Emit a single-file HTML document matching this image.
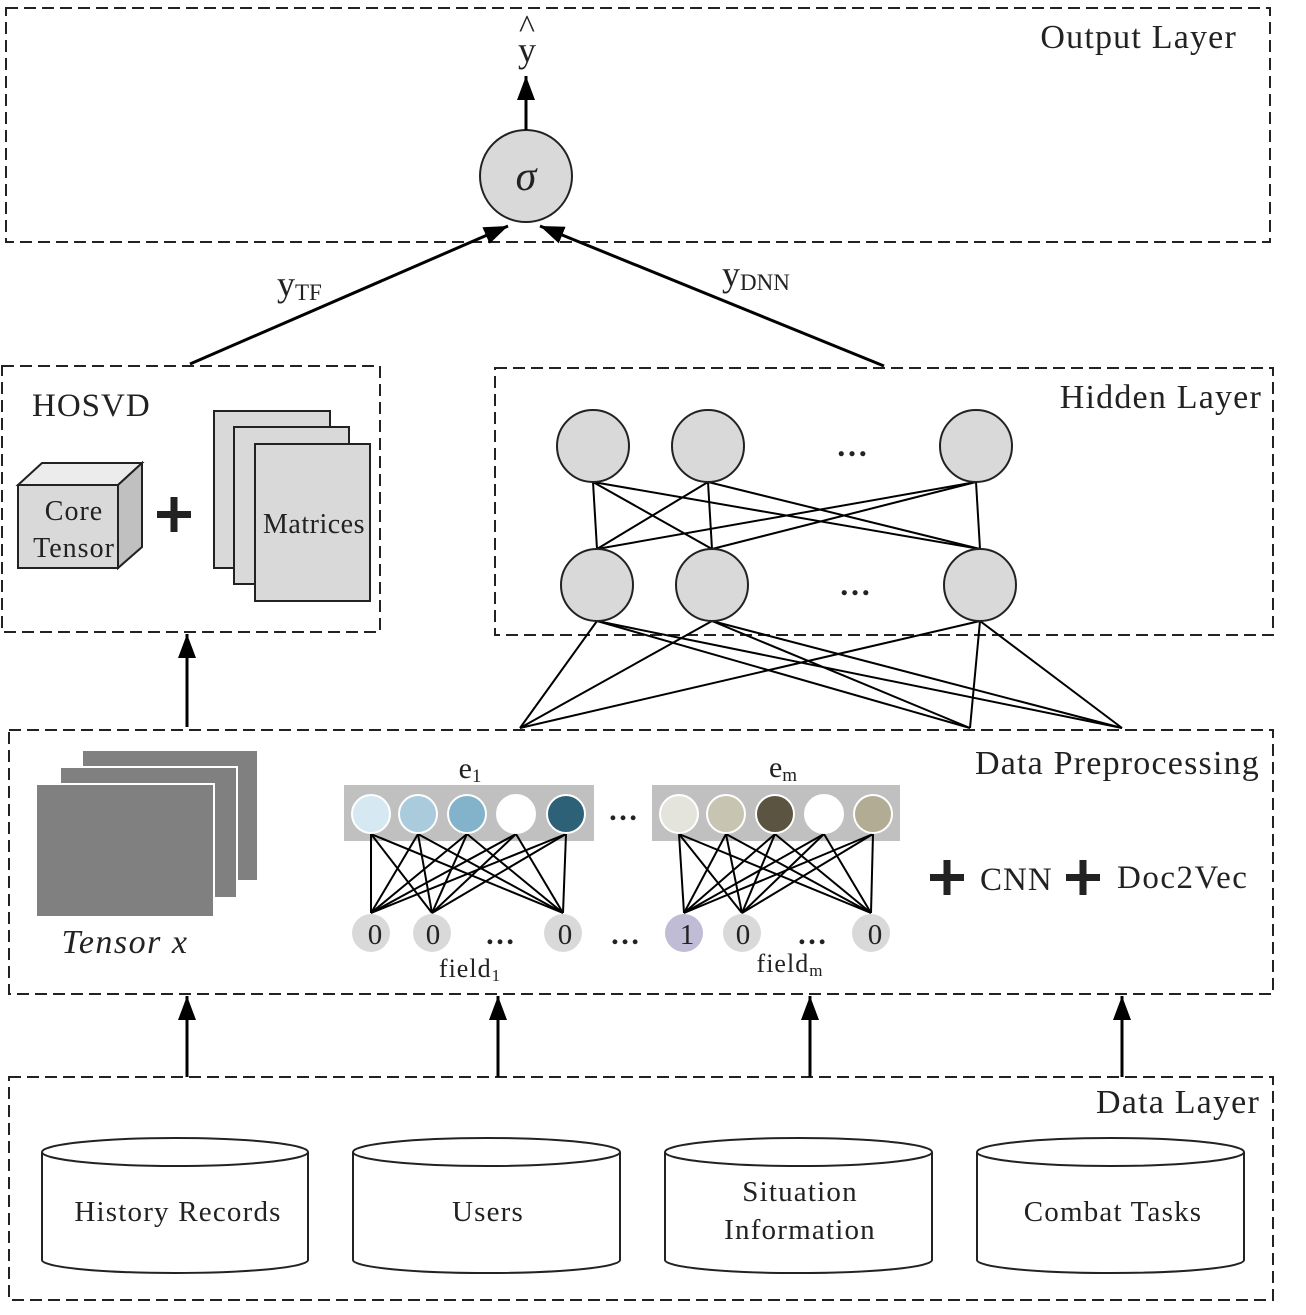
<!DOCTYPE html>
<html><head><meta charset="utf-8"><style>
html,body{margin:0;padding:0;background:#fff;}
svg{display:block;}
text{font-family:"Liberation Serif",serif;fill:#222;}
</style></head><body>
<svg width="1306" height="1315" viewBox="0 0 1306 1315" xmlns="http://www.w3.org/2000/svg">
<defs>
<marker id="ab" markerWidth="26" markerHeight="26" refX="24" refY="9" orient="auto" markerUnits="userSpaceOnUse"><path d="M0,0 L24,9 L0,18 Z" fill="#000"/></marker>
</defs>
<g fill="none" stroke="#222" stroke-width="2" stroke-dasharray="12,6">
<rect x="6" y="8" width="1264" height="234"/>
<rect x="2" y="366" width="378" height="266"/>
<rect x="495" y="368" width="778" height="267"/>
<rect x="9" y="730" width="1264" height="264"/>
<rect x="9" y="1077" width="1264" height="223"/>
</g>
<g font-size="34" letter-spacing="1.2" text-anchor="end">
<text x="1237" y="48">Output Layer</text>
<text x="1262" y="408">Hidden Layer</text>
<text x="1260" y="774">Data Preprocessing</text>
<text x="1260" y="1113">Data Layer</text>
</g>
<text x="32" y="416" font-size="33" letter-spacing="1">HOSVD</text>

<!-- output -->
<circle cx="526" cy="176" r="46" fill="#d9d9d9" stroke="#222" stroke-width="2"/>
<text x="526" y="190" font-size="42" font-style="italic" text-anchor="middle">σ</text>
<line x1="526" y1="130" x2="526" y2="76" stroke="#000" stroke-width="3" marker-end="url(#ab)"/>
<text x="527" y="62" font-size="36" text-anchor="middle">y</text>
<text x="527" y="38" font-size="34" text-anchor="middle">^</text>
<line x1="190" y1="364" x2="508" y2="226" stroke="#000" stroke-width="3" marker-end="url(#ab)"/>
<line x1="884" y1="366" x2="540" y2="226" stroke="#000" stroke-width="3" marker-end="url(#ab)"/>
<text x="277" y="296" font-size="36">y<tspan font-size="23" dy="4">TF</tspan></text>
<text x="722" y="286" font-size="36">y<tspan font-size="23" dy="4">DNN</tspan></text>

<!-- HOSVD -->
<polygon points="18,485 42,463 142,463 118,485" fill="#ececec" stroke="#222" stroke-width="2"/>
<polygon points="118,485 142,463 142,547 118,568" fill="#c0c0c0" stroke="#222" stroke-width="2"/>
<rect x="18" y="485" width="100" height="83" fill="#d9d9d9" stroke="#222" stroke-width="2"/>
<text x="74" y="520" font-size="28" letter-spacing="1" text-anchor="middle">Core</text>
<text x="74" y="557" font-size="28" letter-spacing="1" text-anchor="middle">Tensor</text>
<rect x="157" y="511" width="34" height="7" fill="#222"/><rect x="170.5" y="497" width="7" height="35" fill="#222"/>
<rect x="214" y="411" width="116" height="157" fill="#d9d9d9" stroke="#222" stroke-width="2"/>
<rect x="234" y="427" width="115" height="157" fill="#d9d9d9" stroke="#222" stroke-width="2"/>
<rect x="255" y="444" width="115" height="157" fill="#d9d9d9" stroke="#222" stroke-width="2"/>
<text x="314" y="533" font-size="28" letter-spacing="0.5" text-anchor="middle">Matrices</text>
<line x1="187" y1="727" x2="187" y2="634" stroke="#000" stroke-width="3" marker-end="url(#ab)"/>

<!-- hidden -->
<g stroke="#000" stroke-width="2">
<line x1="593" y1="482" x2="597" y2="549"/><line x1="593" y1="482" x2="712" y2="549"/><line x1="593" y1="482" x2="980" y2="549"/>
<line x1="708" y1="482" x2="597" y2="549"/><line x1="708" y1="482" x2="712" y2="549"/><line x1="708" y1="482" x2="980" y2="549"/>
<line x1="976" y1="482" x2="597" y2="549"/><line x1="976" y1="482" x2="712" y2="549"/><line x1="976" y1="482" x2="980" y2="549"/>
<line x1="597" y1="621" x2="520" y2="728"/><line x1="597" y1="621" x2="970" y2="728"/><line x1="597" y1="621" x2="1122" y2="728"/>
<line x1="712" y1="621" x2="520" y2="728"/><line x1="712" y1="621" x2="970" y2="728"/><line x1="712" y1="621" x2="1122" y2="728"/>
<line x1="980" y1="621" x2="520" y2="728"/><line x1="980" y1="621" x2="970" y2="728"/><line x1="980" y1="621" x2="1122" y2="728"/>
</g>
<g fill="#d9d9d9" stroke="#222" stroke-width="2">
<circle cx="593" cy="446" r="36"/><circle cx="708" cy="446" r="36"/><circle cx="976" cy="446" r="36"/>
<circle cx="597" cy="585" r="36"/><circle cx="712" cy="585" r="36"/><circle cx="980" cy="585" r="36"/>
</g>
<text x="852" y="456" font-size="32" font-weight="bold" text-anchor="middle">…</text>
<text x="855" y="595" font-size="32" font-weight="bold" text-anchor="middle">…</text>

<!-- tensor x -->
<rect x="82" y="750" width="176" height="131" fill="#808080" stroke="#fff" stroke-width="2"/>
<rect x="60" y="767" width="177" height="131" fill="#808080" stroke="#fff" stroke-width="2"/>
<rect x="36" y="784" width="178" height="133" fill="#808080" stroke="#fff" stroke-width="2"/>
<text x="125" y="953" font-size="34" letter-spacing="1.5" font-style="italic" text-anchor="middle">Tensor x</text>

<!-- embeddings -->
<rect x="344" y="785" width="250" height="56" fill="#c0c0c0"/>
<rect x="652" y="785" width="248" height="56" fill="#c0c0c0"/>
<g stroke="#000" stroke-width="2">
<line x1="371" y1="834" x2="371" y2="913"/><line x1="371" y1="834" x2="432" y2="913"/><line x1="371" y1="834" x2="563" y2="913"/>
<line x1="418" y1="834" x2="371" y2="913"/><line x1="418" y1="834" x2="432" y2="913"/><line x1="418" y1="834" x2="563" y2="913"/>
<line x1="467" y1="834" x2="371" y2="913"/><line x1="467" y1="834" x2="432" y2="913"/><line x1="467" y1="834" x2="563" y2="913"/>
<line x1="516" y1="834" x2="371" y2="913"/><line x1="516" y1="834" x2="432" y2="913"/><line x1="516" y1="834" x2="563" y2="913"/>
<line x1="566" y1="834" x2="371" y2="913"/><line x1="566" y1="834" x2="432" y2="913"/><line x1="566" y1="834" x2="563" y2="913"/>
<line x1="679" y1="834" x2="684" y2="913"/><line x1="679" y1="834" x2="742" y2="913"/><line x1="679" y1="834" x2="871" y2="913"/>
<line x1="726" y1="834" x2="684" y2="913"/><line x1="726" y1="834" x2="742" y2="913"/><line x1="726" y1="834" x2="871" y2="913"/>
<line x1="775" y1="834" x2="684" y2="913"/><line x1="775" y1="834" x2="742" y2="913"/><line x1="775" y1="834" x2="871" y2="913"/>
<line x1="824" y1="834" x2="684" y2="913"/><line x1="824" y1="834" x2="742" y2="913"/><line x1="824" y1="834" x2="871" y2="913"/>
<line x1="873" y1="834" x2="684" y2="913"/><line x1="873" y1="834" x2="742" y2="913"/><line x1="873" y1="834" x2="871" y2="913"/>
</g>
<g stroke="#fff" stroke-width="2">
<circle cx="371" cy="814" r="19" fill="#d6e8f2"/><circle cx="418" cy="814" r="19" fill="#a9cbdc"/><circle cx="467" cy="814" r="19" fill="#82b3ca"/><circle cx="516" cy="814" r="19" fill="#ffffff"/><circle cx="566" cy="814" r="19" fill="#2d6177"/>
<circle cx="679" cy="814" r="19" fill="#e4e4dc"/><circle cx="726" cy="814" r="19" fill="#c8c4b2"/><circle cx="775" cy="814" r="19" fill="#5a5440"/><circle cx="824" cy="814" r="19" fill="#ffffff"/><circle cx="873" cy="814" r="19" fill="#b2ac94"/>
</g>
<g fill="#d9d9d9">
<circle cx="371" cy="933" r="19"/><circle cx="432" cy="933" r="19"/><circle cx="563" cy="933" r="19"/>
<circle cx="684" cy="933" r="19" fill="#c0bcd6"/><circle cx="742" cy="933" r="19"/><circle cx="871" cy="933" r="19"/>
</g>
<g font-size="29" text-anchor="middle">
<text x="375" y="944">0</text><text x="433" y="944">0</text><text x="565" y="944">0</text>
<text x="687" y="944">1</text><text x="743" y="944">0</text><text x="875" y="944">0</text>
</g>
<g font-size="30" font-weight="bold" text-anchor="middle">
<text x="500" y="944">…</text><text x="625" y="944">…</text><text x="812" y="944">…</text><text x="623" y="820">…</text>
</g>
<text x="470" y="778" font-size="30" text-anchor="middle">e<tspan font-size="19" dy="4">1</tspan></text>
<text x="783" y="777" font-size="30" text-anchor="middle">e<tspan font-size="19" dy="4">m</tspan></text>
<text x="470" y="977" font-size="26" letter-spacing="1" text-anchor="middle">field<tspan font-size="17" dy="4">1</tspan></text>
<text x="790" y="972" font-size="26" letter-spacing="1" text-anchor="middle">field<tspan font-size="17" dy="4">m</tspan></text>
<rect x="930" y="874" width="34" height="7" fill="#222"/><rect x="943.5" y="860" width="7" height="35" fill="#222"/>
<text x="980" y="890" font-size="33" letter-spacing="1">CNN</text>
<rect x="1066" y="874" width="34" height="7" fill="#222"/><rect x="1079.5" y="860" width="7" height="35" fill="#222"/>
<text x="1117" y="888" font-size="33" letter-spacing="1.5">Doc2Vec</text>

<!-- data arrows -->
<g stroke="#000" stroke-width="3">
<line x1="187" y1="1077" x2="187" y2="996" marker-end="url(#ab)"/>
<line x1="498" y1="1077" x2="498" y2="996" marker-end="url(#ab)"/>
<line x1="810" y1="1077" x2="810" y2="996" marker-end="url(#ab)"/>
<line x1="1122" y1="1077" x2="1122" y2="996" marker-end="url(#ab)"/>
</g>

<!-- cylinders -->
<g fill="#fff" stroke="#222" stroke-width="2">
<path d="M42,1152 L42,1260 A133,13 0 0 0 308,1260 L308,1152"/><ellipse cx="175" cy="1152" rx="133" ry="14"/>
<path d="M353,1152 L353,1260 A133,13 0 0 0 620,1260 L620,1152"/><ellipse cx="486.5" cy="1152" rx="133.5" ry="14"/>
<path d="M665,1152 L665,1260 A133,13 0 0 0 932,1260 L932,1152"/><ellipse cx="798.5" cy="1152" rx="133.5" ry="14"/>
<path d="M977,1152 L977,1260 A133,13 0 0 0 1244,1260 L1244,1152"/><ellipse cx="1110.5" cy="1152" rx="133.5" ry="14"/>
</g>
<g font-size="29" letter-spacing="1.2" text-anchor="middle">
<text x="178" y="1221">History Records</text>
<text x="488" y="1221">Users</text>
<text x="800" y="1201">Situation</text>
<text x="800" y="1239">Information</text>
<text x="1113" y="1221">Combat Tasks</text>
</g>
</svg>
</body></html>
